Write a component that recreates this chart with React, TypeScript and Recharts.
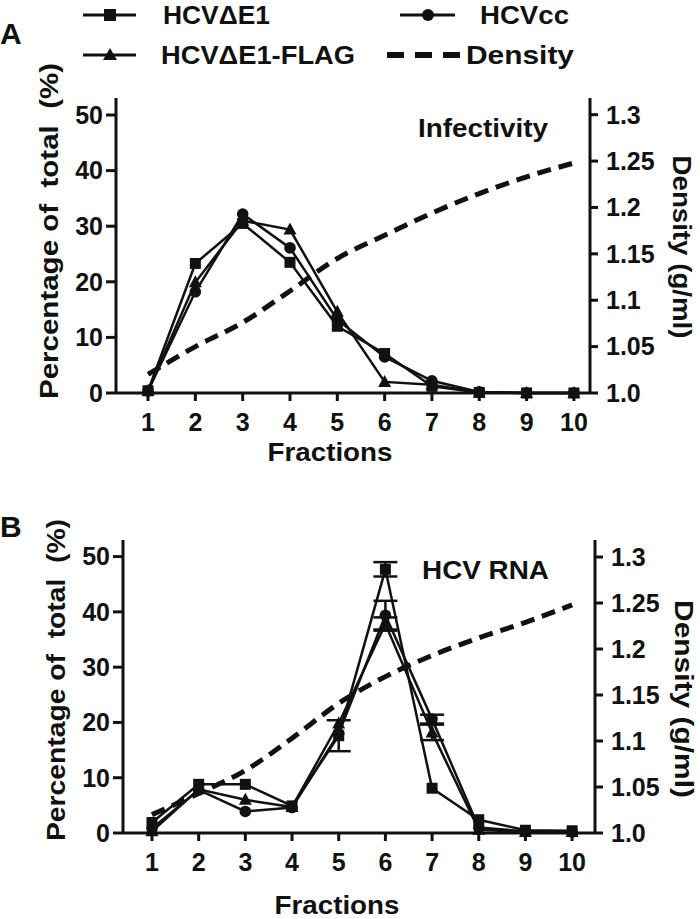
import React from 'react';
import { LineChart, Line, XAxis, YAxis, ErrorBar } from 'recharts';

// ---------- data ----------
const fractions = [1, 2, 3, 4, 5, 6, 7, 8, 9, 10];

// Panel A: infectivity (% of total)
const infE1 = [0.4, 23.3, 30.5, 23.5, 12.0, 7.1, 1.2, 0.1, 0, 0];
const infCC = [0.4, 18.2, 32.2, 26.1, 13.2, 6.5, 2.2, 0.2, 0, 0];
const infFLAG = [0.4, 19.9, 31.0, 29.4, 14.6, 2.0, 1.5, 0.1, 0, 0];
const densityA = [1.02, 1.05, 1.076, 1.11, 1.145, 1.17, 1.194, 1.215, 1.233, 1.248];

// Panel B: HCV RNA (% of total)
const rnaE1 = [1.9, 8.8, 8.8, 4.9, 17.6, 47.7, 8.1, 2.4, 0.5, 0.4];
const rnaCC = [0.8, 7.8, 3.9, 4.6, 18.0, 39.4, 20.6, 1.0, 0.3, 0.2];
const rnaFLAG = [0.3, 7.9, 6.0, 4.7, 19.8, 37.8, 18.2, 0.6, 0.2, 0.2];
const rnaE1Err = [0, 0, 0, 0, 2.8, 1.3, 0, 0, 0, 0];
const rnaCCErr = [0, 0, 0, 0, 0, 2.6, 0.8, 0, 0, 0];
const rnaFLAGErr = [0, 0, 0, 0, 0, 1.2, 1.4, 0, 0, 0];
const densityB = [1.02, 1.043, 1.068, 1.103, 1.141, 1.17, 1.193, 1.212, 1.229, 1.248];

const leftTicks = [0, 10, 20, 30, 40, 50];
const rightTicks = [1.0, 1.05, 1.1, 1.15, 1.2, 1.25, 1.3];
const rightTickLabels = ['1.0', '1.05', '1.1', '1.15', '1.2', '1.25', '1.3'];

const rowsA = fractions.map((f, i) => ({ f, e1: infE1[i], cc: infCC[i], flag: infFLAG[i], dens: densityA[i] }));
const rowsB = fractions.map((f, i) => ({
  f, e1: rnaE1[i], cc: rnaCC[i], flag: rnaFLAG[i], dens: densityB[i],
  e1Err: rnaE1Err[i], ccErr: rnaCCErr[i], flagErr: rnaFLAGErr[i],
}));

// ---------- styling ----------
const INK = '#111';
const FONT = '"Liberation Sans", Arial, Helvetica, sans-serif';
const tickStyle = { fontSize: 25, fontWeight: 700, fill: INK, fontFamily: FONT };
const axisLine = { stroke: INK, strokeWidth: 3 };
const tickLine = { stroke: INK, strokeWidth: 3 };

const squareDot = (props: any) => {
  const { cx, cy, index } = props;
  if (cx == null || cy == null) return <g key={`s${index}`} />;
  return <rect key={`s${index}`} x={cx - 5.5} y={cy - 5.5} width={11} height={11} fill={INK} />;
};
const circleDot = (props: any) => {
  const { cx, cy, index } = props;
  if (cx == null || cy == null) return <g key={`c${index}`} />;
  return <circle key={`c${index}`} cx={cx} cy={cy} r={5.8} fill={INK} />;
};
const triDot = (props: any) => {
  const { cx, cy, index } = props;
  if (cx == null || cy == null) return <g key={`t${index}`} />;
  return <path key={`t${index}`} d={`M${cx},${cy - 7} L${cx + 6.5},${cy + 5} L${cx - 6.5},${cy + 5} Z`} fill={INK} />;
};

const rightFmt = (v: number) => {
  const i = rightTicks.findIndex((t) => Math.abs(t - v) < 1e-6);
  return i >= 0 ? rightTickLabels[i] : String(v);
};

type PanelProps = {
  rows: any[];
  top: number;
  height: number;
  marginTop: number;
  marginBottom: number;
  leftW: number;
  rightW: number;
  xDomain: [number, number];
  leftMax: number;
  rightMax: number;
  errors: boolean;
};

function Panel(p: PanelProps) {
  return (
    <div style={{ position: 'absolute', left: 0, top: p.top }}>
      <LineChart
        width={700}
        height={p.height}
        data={p.rows}
        margin={{ top: p.marginTop, right: 0, bottom: p.marginBottom, left: 0 }}
      >
        <XAxis
          dataKey="f"
          type="number"
          domain={p.xDomain}
          ticks={fractions}
          interval={0}
          tick={tickStyle}
          axisLine={axisLine}
          tickLine={tickLine}
          tickSize={8}
          tickMargin={12}
          height={40}
        />
        <YAxis
          yAxisId="left"
          orientation="left"
          domain={[0, p.leftMax]}
          ticks={leftTicks}
          interval={0}
          width={p.leftW}
          tick={tickStyle}
          axisLine={axisLine}
          tickLine={tickLine}
          tickSize={10}
          tickMargin={3}
        />
        <YAxis
          yAxisId="right"
          orientation="right"
          domain={[1.0, p.rightMax]}
          ticks={rightTicks}
          interval={0}
          width={p.rightW}
          tick={tickStyle}
          axisLine={axisLine}
          tickLine={tickLine}
          tickSize={8}
          tickMargin={8}
          tickFormatter={rightFmt}
        />
        <Line
          yAxisId="right"
          dataKey="dens"
          type="monotone"
          stroke={INK}
          strokeWidth={5}
          strokeDasharray="14 8"
          dot={false}
          isAnimationActive={false}
        />
        <Line yAxisId="left" dataKey="flag" type="linear" stroke={INK} strokeWidth={2.5} dot={triDot} isAnimationActive={false}>
          {p.errors ? <ErrorBar dataKey="flagErr" direction="y" width={12} stroke={INK} strokeWidth={2.5} /> : null}
        </Line>
        <Line yAxisId="left" dataKey="cc" type="linear" stroke={INK} strokeWidth={2.5} dot={circleDot} isAnimationActive={false}>
          {p.errors ? <ErrorBar dataKey="ccErr" direction="y" width={12} stroke={INK} strokeWidth={2.5} /> : null}
        </Line>
        <Line yAxisId="left" dataKey="e1" type="linear" stroke={INK} strokeWidth={2.5} dot={squareDot} isAnimationActive={false}>
          {p.errors ? <ErrorBar dataKey="e1Err" direction="y" width={12} stroke={INK} strokeWidth={2.5} /> : null}
        </Line>
      </LineChart>
    </div>
  );
}

const txt = { fontFamily: FONT, fontWeight: 700, fill: INK } as const;

function Overlay() {
  return (
    <svg width={700} height={919} style={{ position: 'absolute', left: 0, top: 0, pointerEvents: 'none' }}>
      {/* legend */}
      <line x1={83} y1={15} x2={136} y2={15} stroke={INK} strokeWidth={3} />
      <rect x={104} y={9} width={12} height={12} fill={INK} />
      <text x={163} y={15} dominantBaseline="central" fontSize={25} textLength={107} lengthAdjust="spacingAndGlyphs" style={txt}>HCVΔE1</text>
      <line x1={400} y1={15} x2={455} y2={15} stroke={INK} strokeWidth={3} />
      <circle cx={428} cy={15} r={6} fill={INK} />
      <text x={480} y={15} dominantBaseline="central" fontSize={25} textLength={89} lengthAdjust="spacingAndGlyphs" style={txt}>HCVcc</text>
      <line x1={83} y1={55} x2={136} y2={55} stroke={INK} strokeWidth={3} />
      <path d="M110,48 L117,60 L103,60 Z" fill={INK} />
      <text x={161} y={55} dominantBaseline="central" fontSize={25} textLength={194} lengthAdjust="spacingAndGlyphs" style={txt}>HCVΔE1-FLAG</text>
      <line x1={387} y1={55} x2={462} y2={55} stroke={INK} strokeWidth={6} strokeDasharray="17 11" />
      <text x={466} y={55} dominantBaseline="central" fontSize={25} textLength={108} lengthAdjust="spacingAndGlyphs" style={txt}>Density</text>

      {/* panel letters */}
      <text x={0} y={33} dominantBaseline="central" fontSize={30} style={txt}>A</text>
      <text x={0} y={526} dominantBaseline="central" fontSize={30} style={txt}>B</text>

      {/* annotations */}
      <text x={418} y={128} dominantBaseline="central" fontSize={25} textLength={130} lengthAdjust="spacingAndGlyphs" style={txt}>Infectivity</text>
      <text x={422} y={570} dominantBaseline="central" fontSize={25} textLength={127} lengthAdjust="spacingAndGlyphs" style={txt}>HCV RNA</text>

      {/* axis titles A */}
      <text x={49} y={231} transform="rotate(-90 49 231)" textAnchor="middle" dominantBaseline="central" fontSize={26} textLength={336} lengthAdjust="spacingAndGlyphs" style={{ ...txt, whiteSpace: 'pre' }}>Percentage of  total  (%)</text>
      <text x={682} y={247} transform="rotate(90 682 247)" textAnchor="middle" dominantBaseline="central" fontSize={25} textLength={183} lengthAdjust="spacingAndGlyphs" style={txt}>Density (g/ml)</text>
      <text x={330} y={452} textAnchor="middle" dominantBaseline="central" fontSize={26} textLength={125} lengthAdjust="spacingAndGlyphs" style={txt}>Fractions</text>

      {/* axis titles B */}
      <text x={56} y={680} transform="rotate(-90 56 680)" textAnchor="middle" dominantBaseline="central" fontSize={26} textLength={322} lengthAdjust="spacingAndGlyphs" style={{ ...txt, whiteSpace: 'pre' }}>Percentage of  total  (%)</text>
      <text x={684} y={699} transform="rotate(90 684 699)" textAnchor="middle" dominantBaseline="central" fontSize={25} textLength={198} lengthAdjust="spacingAndGlyphs" style={txt}>Density (g/ml)</text>
      <text x={337} y={905} textAnchor="middle" dominantBaseline="central" fontSize={26} textLength={125} lengthAdjust="spacingAndGlyphs" style={txt}>Fractions</text>
    </svg>
  );
}

export default function App() {
  return (
    <div style={{ position: 'absolute', left: 0, top: 0, width: 700, height: 919, background: '#fff', overflow: 'hidden' }}>
      <Panel
        rows={rowsA}
        top={0}
        height={470}
        marginTop={98}
        marginBottom={37}
        leftW={116}
        rightW={110}
        xDomain={[0.323, 10.34]}
        leftMax={53.06}
        rightMax={1.318}
        errors={false}
      />
      <Panel
        rows={rowsB}
        top={470}
        height={449}
        marginTop={70}
        marginBottom={46}
        leftW={123}
        rightW={105}
        xDomain={[0.379, 10.49]}
        leftMax={53.0}
        rightMax={1.3185}
        errors={true}
      />
      <Overlay />
    </div>
  );
}
